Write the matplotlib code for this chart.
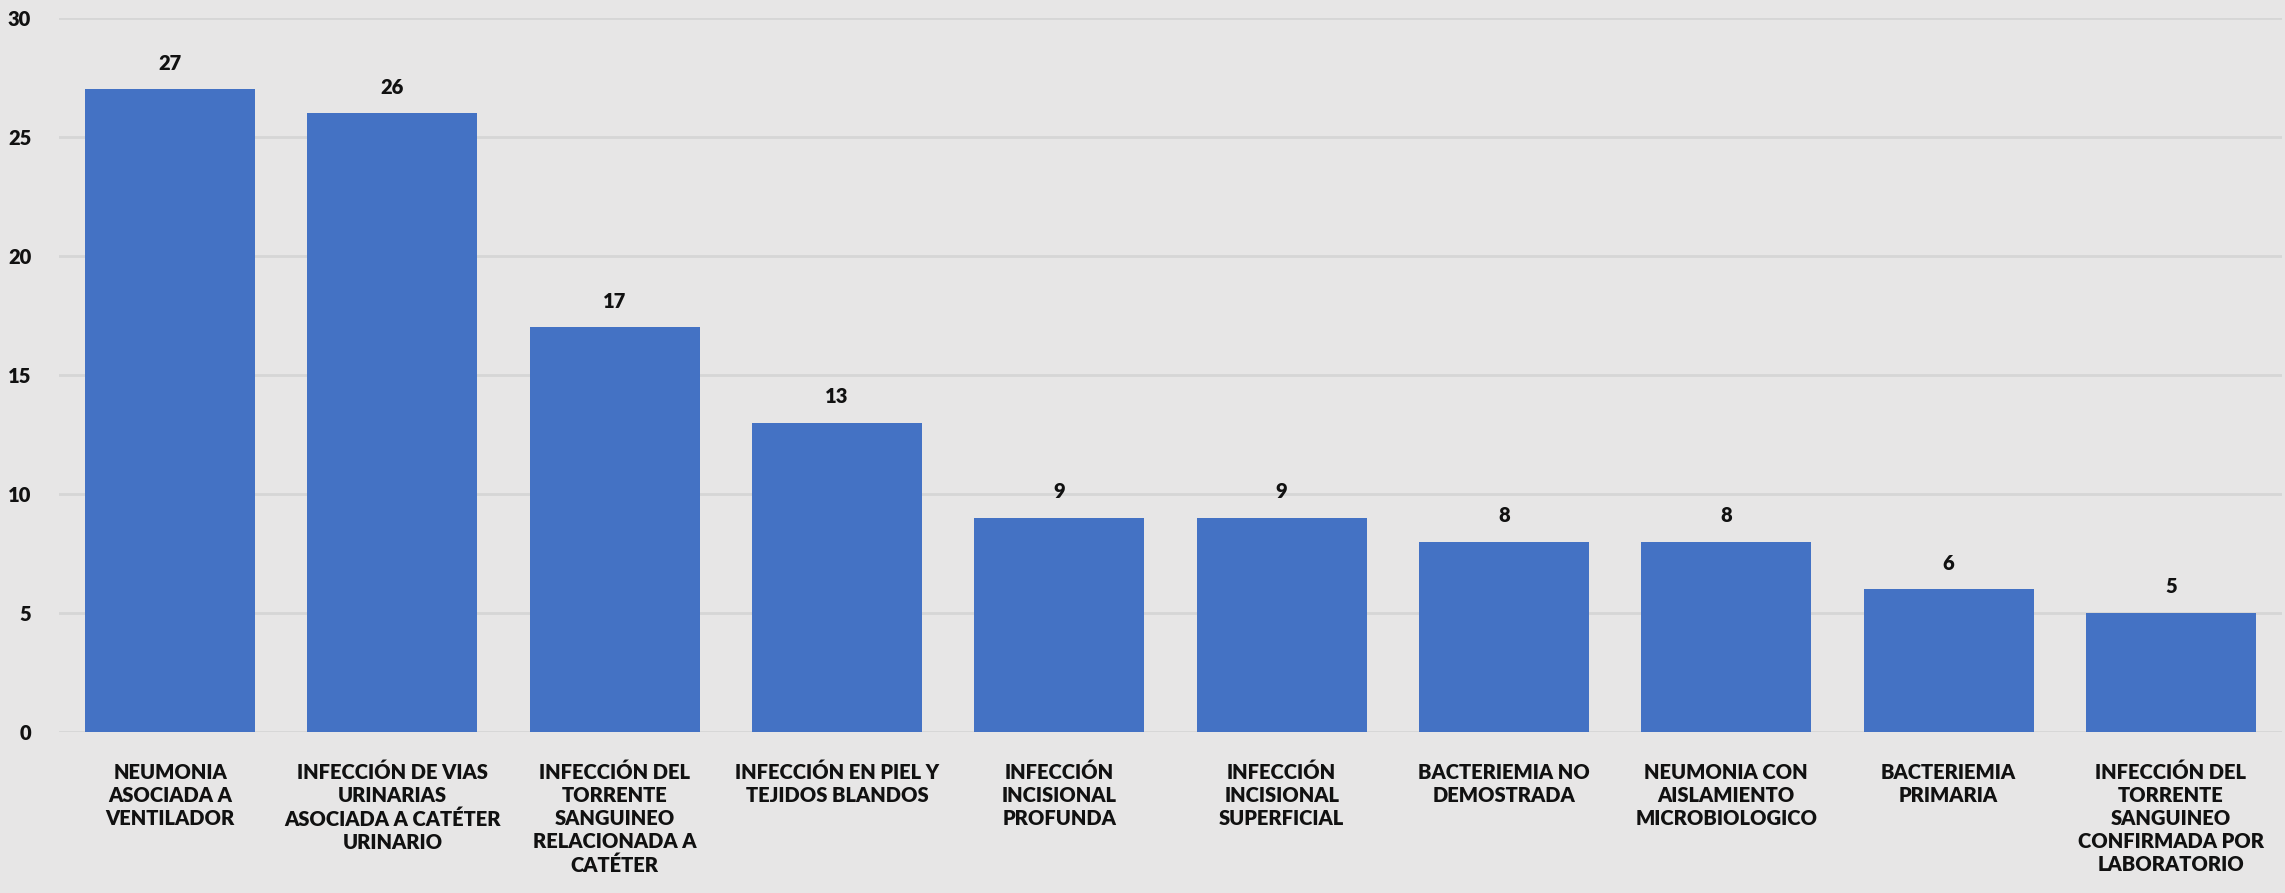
import matplotlib
matplotlib.use("Agg")
import matplotlib.pyplot as plt

categories = [
    "NEUMONIA\nASOCIADA A\nVENTILADOR",
    "INFECCIÓN DE VIAS\nURINARIAS\nASOCIADA A CATÉTER\nURINARIO",
    "INFECCIÓN DEL\nTORRENTE\nSANGUINEO\nRELACIONADA A\nCATÉTER",
    "INFECCIÓN EN PIEL Y\nTEJIDOS BLANDOS",
    "INFECCIÓN\nINCISIONAL\nPROFUNDA",
    "INFECCIÓN\nINCISIONAL\nSUPERFICIAL",
    "BACTERIEMIA NO\nDEMOSTRADA",
    "NEUMONIA CON\nAISLAMIENTO\nMICROBIOLOGICO",
    "BACTERIEMIA\nPRIMARIA",
    "INFECCIÓN DEL\nTORRENTE\nSANGUINEO\nCONFIRMADA POR\nLABORATORIO",
]
values = [27, 26, 17, 13, 9, 9, 8, 8, 6, 5]
yticks = [0, 5, 10, 15, 20, 25, 30]

BG = "#e7e6e6"
BAR = "#4472c4"
GRID = "#d6d6d6"
FONT = "Lato"
W = "heavy"

fig = plt.figure(figsize=(22.85, 8.93), dpi=100, facecolor=BG)
ax = fig.add_axes([59/2285, 161/893, (2282-59)/2285, (732-18)/893])
ax.set_facecolor(BG)

x = list(range(len(values)))
bars = ax.bar(x, values, width=0.765, color=BAR, zorder=3)
ax.set_xlim(-0.5, len(values) - 0.5)
ax.set_ylim(0, 30)
ax.set_yticks(yticks)
ax.set_yticklabels([str(t) for t in yticks], fontsize=14.5, fontweight=W,
                   family=FONT, color="#111111")
ax.set_xticks(x)
ax.set_xticklabels(categories, fontsize=14.5, fontweight=W, family=FONT,
                   color="#111111", linespacing=1.25, va="top")
ax.tick_params(axis="y", length=0, pad=20)
ax.tick_params(axis="x", length=0, pad=22)
ax.grid(axis="y", color=GRID, linewidth=2, zorder=0)
for s in ax.spines.values():
    s.set_visible(False)

for b, v in zip(bars, values):
    ax.annotate(str(v), (b.get_x() + b.get_width() / 2, v), xytext=(0, 12),
                textcoords="offset points", ha="center", va="bottom",
                fontsize=14.5, fontweight=W, family=FONT, color="#111111")

fig.savefig("out.png", dpi=100, facecolor=BG)
